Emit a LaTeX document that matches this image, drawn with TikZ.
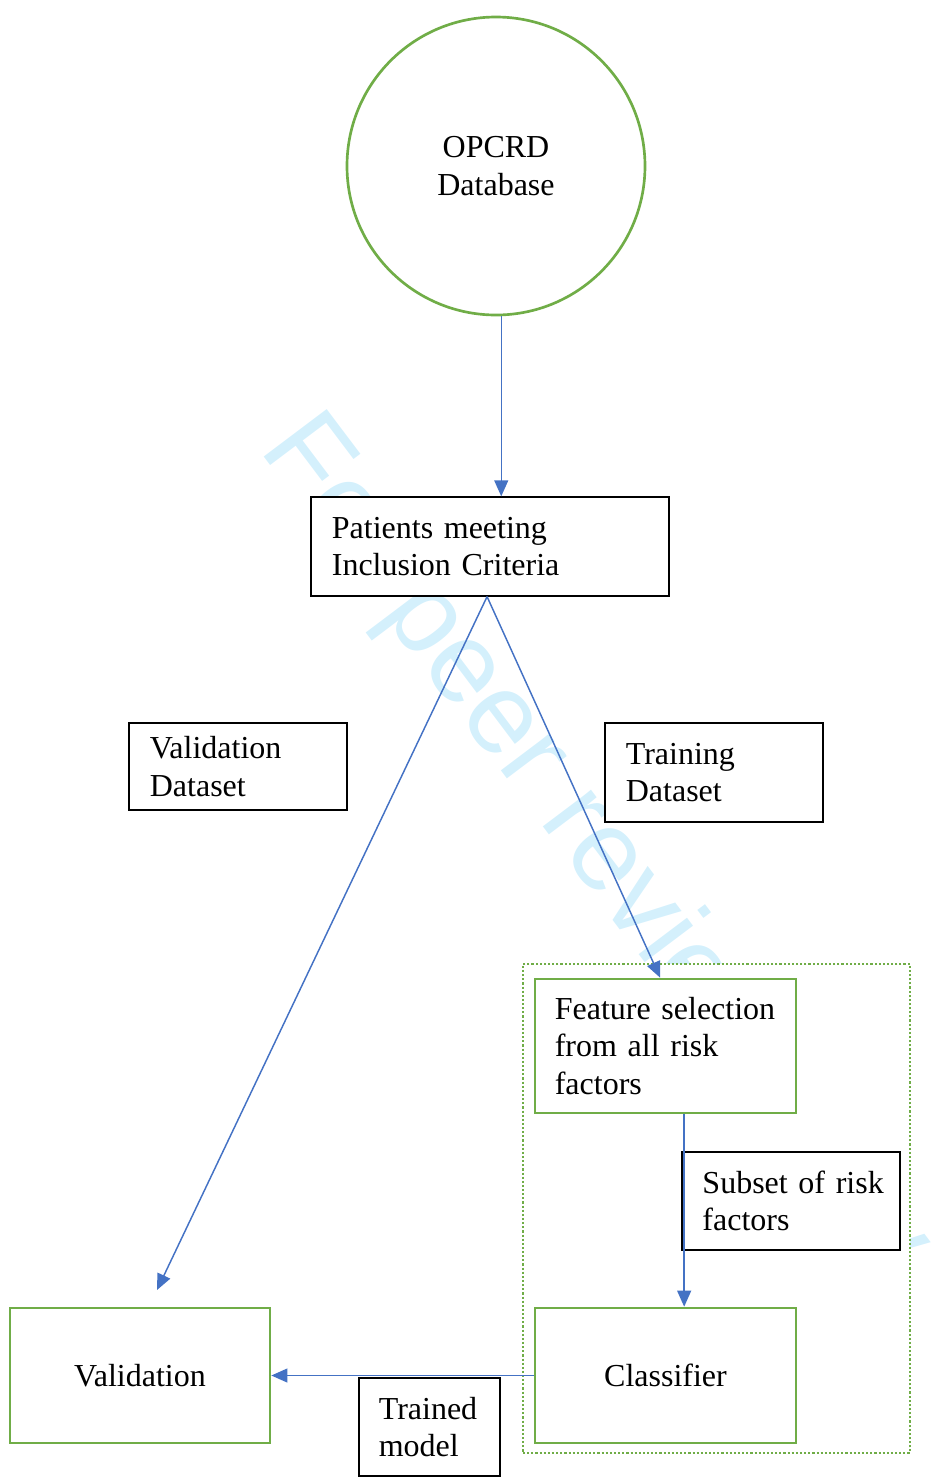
\documentclass[tikz,border=0pt]{standalone}
\usepackage{fontspec}
\setmainfont{Liberation Serif}
\newfontfamily\wmfont{Liberation Sans}
\usetikzlibrary{arrows.meta}
\definecolor{boxgreen}{RGB}{112,173,71}
\definecolor{lineblue}{RGB}{68,114,196}
\definecolor{wmcyan}{RGB}{212,240,252}
\hyphenpenalty=10000
\exhyphenpenalty=10000

\begin{document}
\begin{tikzpicture}[x=0.375pt, y=-0.375pt,
  every node/.style={font=\fontsize{12pt}{14pt}\selectfont},
  plainbox/.style={draw=black, line width=0.5pt, fill=white, inner xsep=7.8pt, align=left},
  greenbox/.style={draw=boxgreen, line width=1pt, fill=white, inner xsep=7.8pt, align=left},
  groupbox/.style={draw=boxgreen, line width=0.95pt, dash pattern=on 0.8pt off 0.75pt, fill=white},
  flow/.style={draw=lineblue, line width=0.55pt, -{Triangle[length=6pt,width=5.2pt]}}]

  \useasboundingbox (0,0) rectangle (946,1483);

  % watermark, under everything else
  \node[anchor=base west, rotate=-53, inner sep=0, text=wmcyan,
        font=\wmfont\fontsize{43pt}{43pt}\selectfont] (wm) at (258,449) {For peer review only};

  % source
  \node[draw=boxgreen, line width=1pt, fill=white, circle, minimum size=111.75pt, align=center] (db) at (496,166)
    {OPCRD\\Database};

  \node[plainbox, text width=118.6pt, minimum height=37.1pt] (pat) at (490,546.5)
    {Patients meeting\\Inclusion Criteria};

  % split labels
  \node[plainbox, text width=66.1pt, minimum height=32.6pt] (valdata) at (238,766.5)
    {Validation\\Dataset};
  \node[plainbox, text width=66.1pt, minimum height=37.1pt] (traindata) at (714,772.5)
    {Training\\Dataset};

  % training part
  \node[groupbox, minimum width=145.1pt, minimum height=183.4pt] (grp) at (716.5,1208.5) {};
  \node[greenbox, text width=83pt, inner xsep=7.45pt, minimum height=50.25pt] (feat) at (665.5,1046)
    {Feature selection\\from all risk\\factors};
  \node[plainbox, text width=66.4pt, inner xsep=7.65pt, minimum height=36.75pt] (subset) at (791,1201)
    {Subset~of~risk\\factors};
  \node[greenbox, align=center, minimum width=97.9pt, minimum height=50.6pt] (cls) at (665.5,1375.5)
    {Classifier};

  \node[greenbox, align=center, minimum width=97.5pt, minimum height=50.6pt] (val) at (140,1375.5)
    {Validation};
  \node[plainbox, text width=38pt, inner xsep=7.45pt, minimum height=36.75pt] (model) at (429.5,1427)
    {Trained\\model};

  % connectors
  \coordinate (valtip) at (157,1290);
  \draw[flow] (db.-88) -- (db.-88 |- pat.north);
  \draw[flow] ([xshift=-1.1pt]pat.south) -- (valtip);
  \draw[flow] ([xshift=-1.1pt]pat.south) -- ([xshift=-2pt]feat.north);
  \draw[flow] ([xshift=7pt]feat.south) -- ([xshift=7pt]cls.north);
  \draw[flow] (cls.west) -- (val.east);

\end{tikzpicture}
\end{document}
